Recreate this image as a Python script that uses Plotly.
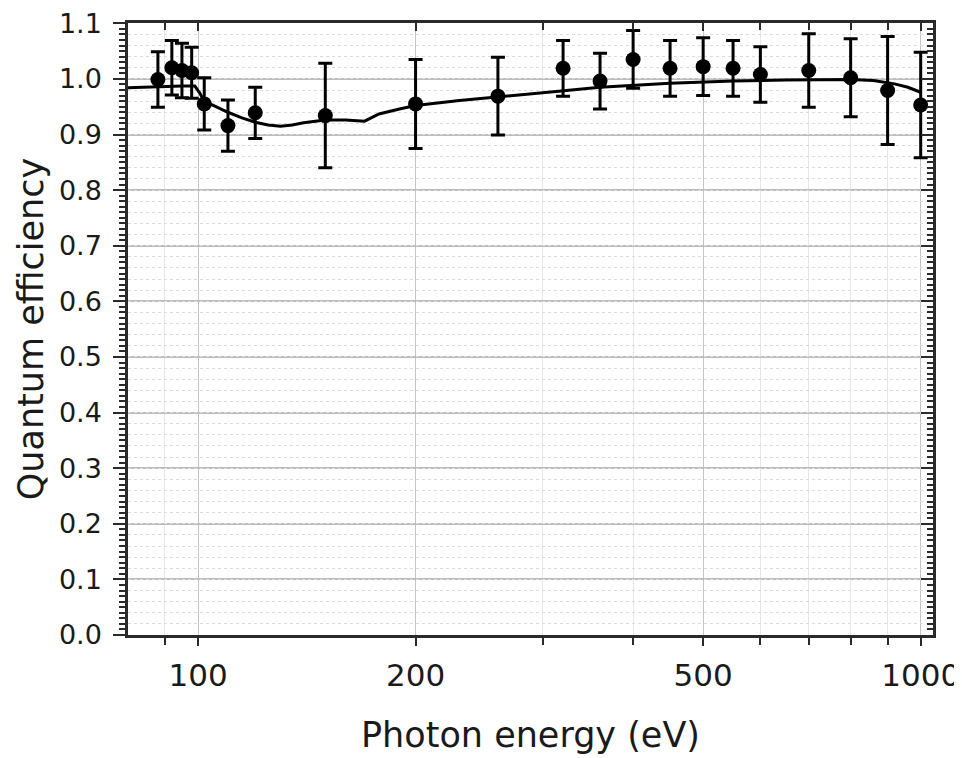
import numpy as np
import plotly.graph_objects as go

# Measured data points
energy = [88, 92, 95, 98, 102, 110, 120, 150, 200, 260, 320, 360, 400, 450, 500, 550, 600, 700, 800, 900, 1000]
qe = [0.999, 1.020, 1.015, 1.011, 0.955, 0.916, 0.939, 0.934, 0.955, 0.969, 1.019, 0.996, 1.035, 1.019, 1.022, 1.019, 1.008, 1.015, 1.002, 0.979, 0.953]
qe_err = [0.050, 0.049, 0.049, 0.046, 0.047, 0.046, 0.046, 0.094, 0.080, 0.070, 0.050, 0.050, 0.052, 0.050, 0.052, 0.050, 0.050, 0.066, 0.070, 0.097, 0.095]

# Model curve
curve_x = [80, 88, 95, 99, 100.5, 102, 106, 110, 115, 120, 125, 130, 135, 140, 150, 160, 170, 178,
           190, 200, 230, 260, 300, 360, 450, 550, 650, 800, 860, 920, 960, 1000]
curve_y = [0.984, 0.986, 0.987, 0.987, 0.975, 0.960, 0.950, 0.940, 0.930, 0.922, 0.917, 0.915, 0.917,
           0.921, 0.926, 0.926, 0.924, 0.937, 0.946, 0.952, 0.961, 0.968, 0.975, 0.985, 0.992, 0.996,
           0.998, 0.999, 0.997, 0.991, 0.985, 0.976]

x_tickvals = [100, 200, 500, 1000]
x_ticktext = ["100", "200", "500", "1000"]
x_minorvals = [90, 300, 400, 600, 700, 800, 900]
y_tickvals = [0.0, 0.1, 0.2, 0.3, 0.4, 0.5, 0.6, 0.7, 0.8, 0.9, 1.0, 1.1]
y_ticktext = ["0.0", "0.1", "0.2", "0.3", "0.4", "0.5", "0.6", "0.7", "0.8", "0.9", "1.0", "1.1"]
x_range = [np.log10(80), np.log10(1040)]
y_range = [0, 1.1005]

FONT = "DejaVu Sans, Arial, sans-serif"
AX = "#2a2a2a"

fig = go.Figure()
# invisible anchor traces so the overlay axes render
fig.add_trace(go.Scatter(x=[100], y=[0.5], xaxis="x2", yaxis="y2", mode="markers",
                         marker=dict(opacity=0), showlegend=False, hoverinfo="skip"))
fig.add_trace(go.Scatter(x=[100], y=[0.5], xaxis="x", yaxis="y3", mode="markers",
                         marker=dict(opacity=0), showlegend=False, hoverinfo="skip"))
fig.add_trace(go.Scatter(x=curve_x, y=curve_y, mode="lines",
                         line=dict(color="black", width=3), showlegend=False))
fig.add_trace(go.Scatter(x=energy, y=qe, mode="markers",
                         marker=dict(color="black", size=15),
                         error_y=dict(type="data", array=qe_err, visible=True,
                                      color="black", thickness=3, width=7),
                         showlegend=False))

fig.update_layout(
    width=954, height=750,
    margin=dict(l=120, r=29, t=15, b=123, autoexpand=False),
    paper_bgcolor="white", plot_bgcolor="white",
    font=dict(family=FONT, color="#1a1a1a"),
    xaxis=dict(
        type="log", range=x_range, automargin=False,
        tickmode="array", tickvals=x_tickvals, ticktext=x_ticktext,
        ticks="outside", ticklen=8, tickwidth=2, tickcolor=AX,
        tickfont=dict(size=31, family=FONT),
        ticklabelstandoff=3, ticklabeloverflow="allow",
        showline=True, linewidth=2.5, linecolor=AX, mirror=True,
        showgrid=True, gridcolor="#c4c4c4", gridwidth=1,
        minor=dict(tickmode="array", tickvals=x_minorvals, ticks="outside",
                   ticklen=7, tickwidth=2, tickcolor=AX,
                   showgrid=True, gridcolor="#e6e6e6", gridwidth=1),
        title=dict(text="Photon energy (eV)", font=dict(size=35, family=FONT), standoff=31),
        zeroline=False,
    ),
    yaxis=dict(
        range=y_range, tickmode="array", tickvals=y_tickvals, ticktext=y_ticktext,
        automargin=False,
        ticks="outside", ticklen=12, tickwidth=2, tickcolor=AX,
        tickfont=dict(size=27, family=FONT),
        ticklabelstandoff=6, ticklabeloverflow="allow",
        showline=True, linewidth=2.5, linecolor=AX, mirror=True,
        showgrid=True, gridcolor="#bdbdbd", gridwidth=2,
        minor=dict(dtick=0.01, tick0=0, ticks="outside", ticklen=6, tickwidth=1.5,
                   tickcolor=AX, showgrid=False),
        title=dict(text="Quantum efficiency", font=dict(size=35, family=FONT), standoff=5),
        zeroline=False,
    ),
    # top mirrored ticks (inside)
    xaxis2=dict(
        type="log", range=x_range, overlaying="x", side="top", automargin=False,
        tickmode="array", tickvals=x_tickvals, showticklabels=False,
        ticks="inside", ticklen=8, tickwidth=2, tickcolor=AX,
        minor=dict(tickmode="array", tickvals=x_minorvals, ticks="inside",
                   ticklen=7, tickwidth=2, tickcolor=AX),
        showgrid=False, zeroline=False, showline=False,
    ),
    # right mirrored ticks (inside)
    yaxis2=dict(
        range=y_range, tickmode="array", tickvals=y_tickvals, overlaying="y", side="right",
        automargin=False, showticklabels=False,
        ticks="inside", ticklen=12, tickwidth=2, tickcolor=AX,
        minor=dict(dtick=0.01, tick0=0, ticks="inside", ticklen=6, tickwidth=1.5, tickcolor=AX),
        showgrid=False, zeroline=False, showline=False,
    ),
    # faint dotted minor grid at 0.02
    yaxis3=dict(
        range=y_range, dtick=0.02, tick0=0, overlaying="y", side="left", automargin=False,
        showticklabels=False, ticks="",
        showgrid=True, gridcolor="#dcdcdc", gridwidth=1, griddash="dot",
        zeroline=False, showline=False,
    ),
)

fig.write_html("out.html")
